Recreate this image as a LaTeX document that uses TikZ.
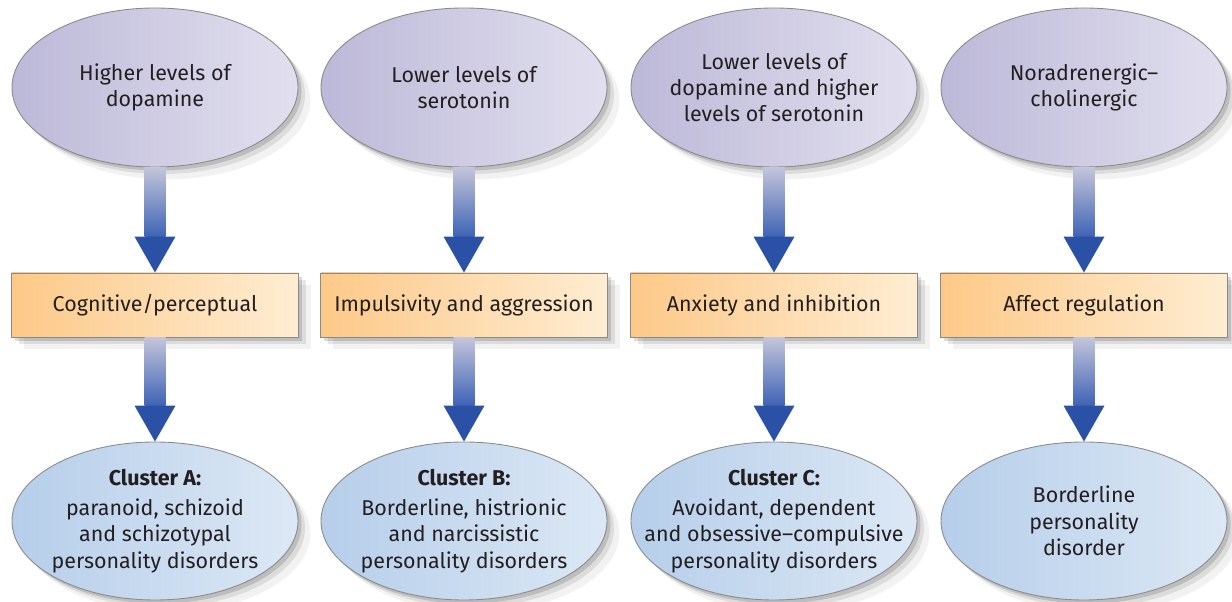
\documentclass[tikz,border=0pt]{standalone}
\usepackage{fontspec}
\setmainfont{Fira Sans}
\usetikzlibrary{shapes.geometric, shadows, calc}
\definecolor{ink}{HTML}{231F20}
\definecolor{edge}{HTML}{8A8A8A}
\definecolor{lilacL}{HTML}{BCB8D8}
\definecolor{lilacR}{HTML}{E2E0EF}
\definecolor{peachL}{HTML}{FDC988}
\definecolor{peachR}{HTML}{FEEDD2}
\definecolor{skyL}{HTML}{B6CEEA}
\definecolor{skyR}{HTML}{DCE8F5}
\definecolor{shafttop}{HTML}{C4C5DA}
\definecolor{shaftbot}{HTML}{3F63B5}
\definecolor{headblue}{HTML}{2A51A6}

% thick shaded arrow from the bottom of one node to the top of the next
\newcommand{\blockarrow}[2]{%
  \shade[top color=shafttop, bottom color=shaftbot]
    ($(#1.south)+(-0.21,0)$) rectangle ($(#2.north)+(0.21,0.72)$);
  \fill[headblue] ($(#2.north)+(-0.41,0.72)$) -- ($(#2.north)+(0.41,0.72)$)
    -- (#2.north) -- cycle;}

\begin{document}
\begin{tikzpicture}[
  every node/.style={text=ink, font=\fontsize{12.2}{15}\selectfont, align=center},
  softshadow/.style={
    drop shadow={shadow xshift=2pt, shadow yshift=-2pt, opacity=.14, fill=black},
    drop shadow={shadow xshift=4pt, shadow yshift=-4pt, opacity=.09, fill=black},
    drop shadow={shadow xshift=7pt, shadow yshift=-7pt, opacity=.05, fill=black}},
  cause/.style={ellipse, draw=edge, line width=0.5pt,
    inner xsep=-0.6cm, inner ysep=0pt,
    minimum width=5.72cm, minimum height=3.18cm,
    left color=lilacL, right color=lilacR, softshadow},
  trait/.style={rectangle, draw=edge, line width=0.5pt, inner sep=0pt,
    minimum width=5.74cm, minimum height=1.28cm,
    left color=peachL, right color=peachR, softshadow},
  cluster/.style={ellipse, draw=edge, line width=0.5pt,
    inner xsep=-0.6cm, inner ysep=0pt,
    minimum width=5.72cm, minimum height=3.16cm,
    left color=skyL, right color=skyR, softshadow}
]

\useasboundingbox (0,0) rectangle (24.64,12.04);

% Neurotransmitter causes
\node[cause] (c1) at (3.10,10.29) {Higher levels of\\dopamine};
\node[cause] (c2) at (9.28,10.29) {Lower levels of\\serotonin};
\node[cause] (c3) at (15.48,10.29) {Lower levels of\\dopamine and higher\\levels of serotonin};
\node[cause] (c4) at (21.68,10.29) {Noradrenergic--\\cholinergic};

% Trait dimensions
\node[trait] (t1) at (3.10,5.94) {Cognitive/perceptual};
\node[trait] (t2) at (9.28,5.94) {Impulsivity and aggression};
\node[trait] (t3) at (15.48,5.94) {Anxiety and inhibition};
\node[trait] (t4) at (21.68,5.94) {Affect regulation};

% Disorder clusters
\node[cluster] (d1) at (3.10,1.62)
  {\textbf{Cluster A:}\\[2pt]paranoid, schizoid\\and schizotypal\\personality disorders};
\node[cluster] (d2) at (9.28,1.62)
  {\textbf{Cluster B:}\\[2pt]Borderline, histrionic\\and narcissistic\\personality disorders};
\node[cluster] (d3) at (15.48,1.62)
  {\textbf{Cluster C:}\\[2pt]Avoidant, dependent\\and obsessive--compulsive\\personality disorders};
\node[cluster] (d4) at (21.68,1.62) {Borderline\\personality\\disorder};

% Arrows
\blockarrow{c1}{t1}
\blockarrow{c2}{t2}
\blockarrow{c3}{t3}
\blockarrow{c4}{t4}
\blockarrow{t1}{d1}
\blockarrow{t2}{d2}
\blockarrow{t3}{d3}
\blockarrow{t4}{d4}

\end{tikzpicture}
\end{document}
